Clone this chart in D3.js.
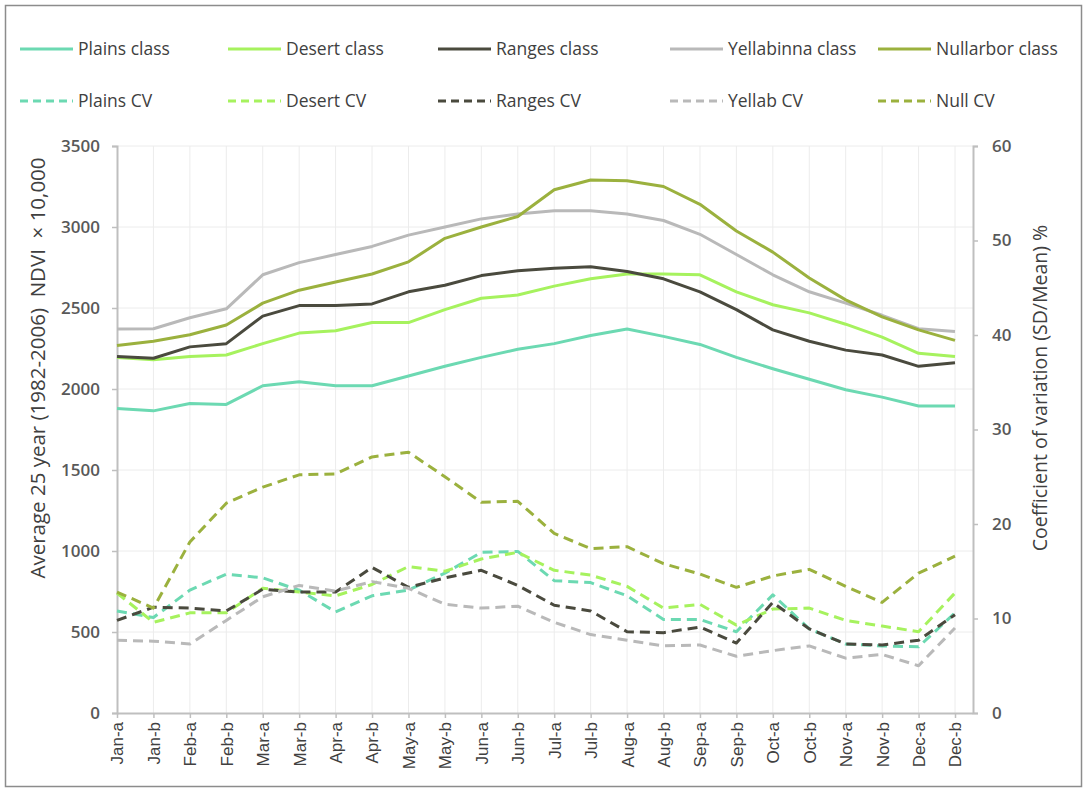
<!DOCTYPE html>
<html lang="en">
  <head>
    <meta charset="utf-8" />
    <title>NDVI by class</title>
    <style>
      body { margin: 0; background: #fff; }
      svg { display: block; }
    </style>
  </head>
  <body>
    <script src="https://d3js.org/d3.v7.min.js"></script>
    <div id="chart"></div>
    <script>
      // categories (half-months)
      const periods = ["Jan-a","Jan-b","Feb-a","Feb-b","Mar-a","Mar-b","Apr-a","Apr-b","May-a","May-b","Jun-a","Jun-b",
        "Jul-a","Jul-b","Aug-a","Aug-b","Sep-a","Sep-b","Oct-a","Oct-b","Nov-a","Nov-b","Dec-a","Dec-b"];

      // NDVI x 10,000 (left axis)
      const plainsClass = [1880,1865,1910,1905,2020,2045,2020,2020,2080,2140,2195,2245,2280,2330,2370,2325,2275,2195,2125,2060,1995,1950,1895,1895];
      const desertClass = [2195,2180,2200,2210,2280,2345,2360,2410,2410,2490,2560,2580,2635,2680,2710,2710,2705,2600,2520,2470,2400,2320,2220,2200];
      const rangesClass = [2200,2190,2260,2280,2450,2515,2515,2525,2600,2640,2700,2730,2745,2755,2725,2680,2600,2490,2365,2295,2240,2210,2140,2162];
      const yellabClass = [2370,2372,2440,2495,2705,2780,2830,2880,2950,3000,3050,3080,3100,3100,3080,3040,2955,2830,2705,2600,2530,2455,2372,2355];
      const nullarborClass = [2268,2295,2335,2395,2530,2610,2660,2710,2785,2930,3000,3065,3230,3290,3285,3250,3140,2975,2845,2685,2550,2445,2365,2300];

      // coefficient of variation % (right axis)
      const plainsCV = [10.8,10.1,13.0,14.7,14.3,13.0,10.7,12.4,13.0,14.8,17.0,17.1,14.0,13.8,12.4,9.9,9.9,8.6,12.5,8.9,7.3,7.1,7.0,10.6];
      const desertCV = [12.7,9.6,10.6,10.6,13.2,12.8,12.4,13.6,15.5,15.0,16.3,17.0,15.1,14.6,13.4,11.1,11.5,9.3,11.0,11.1,9.8,9.2,8.6,12.7];
      const rangesCV = [9.8,11.2,11.1,10.8,13.1,12.8,12.8,15.4,13.3,14.3,15.1,13.5,11.4,10.8,8.6,8.5,9.1,7.4,11.7,8.9,7.3,7.2,7.7,10.4];
      const yellabCV = [7.7,7.6,7.3,9.8,12.3,13.5,12.9,13.9,13.2,11.5,11.1,11.3,9.6,8.3,7.7,7.1,7.2,6.0,6.6,7.1,5.8,6.2,5.0,9.0];
      const nullCV = [12.8,11.1,18.1,22.2,23.9,25.2,25.3,27.1,27.6,25.0,22.3,22.4,19.0,17.4,17.6,15.8,14.7,13.3,14.5,15.2,13.4,11.7,14.8,16.6];

      const leftTicks = [0,500,1000,1500,2000,2500,3000,3500];
      const rightTicks = [0,10,20,30,40,50,60];

      const W = 1086, H = 791;
      const plot = { left: 117, right: 973, top: 146, bottom: 713, lastX: 955 };

      const colors = {
        plains: "#6cd9b2",
        desert: "#a6f25e",
        ranges: "#4a4a3e",
        yellab: "#b9b9b9",
        nullarbor: "#9bb13e"
      };

      const series = [
        { name: "Plains class", values: plainsClass, color: colors.plains, axis: "L", dash: null },
        { name: "Desert class", values: desertClass, color: colors.desert, axis: "L", dash: null },
        { name: "Ranges class", values: rangesClass, color: colors.ranges, axis: "L", dash: null },
        { name: "Yellabinna class", values: yellabClass, color: colors.yellab, axis: "L", dash: null },
        { name: "Nullarbor class", values: nullarborClass, color: colors.nullarbor, axis: "L", dash: null },
        { name: "Plains CV", values: plainsCV, color: colors.plains, axis: "R", dash: "10,6" },
        { name: "Desert CV", values: desertCV, color: colors.desert, axis: "R", dash: "10,6" },
        { name: "Ranges CV", values: rangesCV, color: colors.ranges, axis: "R", dash: "10,6" },
        { name: "Yellab CV", values: yellabCV, color: colors.yellab, axis: "R", dash: "10,6" },
        { name: "Null CV", values: nullCV, color: colors.nullarbor, axis: "R", dash: "10,6" }
      ];

      const svg = d3.select("#chart").append("svg")
        .attr("width", W).attr("height", H);

      svg.append("rect").attr("x", 5.5).attr("y", 5.5)
        .attr("width", W - 10).attr("height", H - 10)
        .attr("fill", "#fff").attr("stroke", "#8c8c8c").attr("stroke-width", 1.5);

      const x = d3.scalePoint().domain(periods).range([plot.left, plot.lastX]);
      const yL = d3.scaleLinear().domain([0, 3500]).range([plot.bottom, plot.top]);
      const yR = d3.scaleLinear().domain([0, 60]).range([plot.bottom, plot.top]);

      // gridlines
      const grid = svg.append("g");
      grid.selectAll(".hg").data(leftTicks.slice(1)).join("line")
        .attr("x1", plot.left).attr("x2", plot.right)
        .attr("y1", d => yL(d)).attr("y2", d => yL(d))
        .attr("stroke", "#ececec").attr("stroke-width", 1);
      grid.selectAll(".vg").data(periods.slice(1)).join("line")
        .attr("x1", d => x(d)).attr("x2", d => x(d))
        .attr("y1", plot.top).attr("y2", plot.bottom)
        .attr("stroke", "#ececec").attr("stroke-width", 1);

      // axes
      const axisColor = "#bfbfbf";
      const tickFont = "'Open Sans', 'Noto Sans', sans-serif";

      const gL = svg.append("g").attr("transform", `translate(${plot.left},0)`)
        .call(d3.axisLeft(yL).tickValues(leftTicks).tickFormat(d3.format("d")).tickSize(5).tickPadding(12));
      const gR = svg.append("g").attr("transform", `translate(${plot.right},0)`)
        .call(d3.axisRight(yR).tickValues(rightTicks).tickFormat(d3.format("d")).tickSize(5).tickPadding(14));
      const gB = svg.append("g").attr("transform", `translate(0,${plot.bottom})`)
        .call(d3.axisBottom(x).tickSize(5).tickSizeOuter(0));

      gB.select(".domain").attr("d", `M${plot.left},0.5H${plot.right}`);

      [gL, gR, gB].forEach(g => {
        g.select(".domain").attr("stroke", axisColor).attr("stroke-width", 2);
        g.selectAll(".tick line").attr("stroke", axisColor).attr("stroke-width", 1.5);
      });
      [gL, gR].forEach(g => {
        g.selectAll(".tick text").attr("fill", "#595959")
          .style("font-family", tickFont).style("font-size", "17px").style("font-weight", 600);
      });
      gB.selectAll(".tick text")
        .attr("transform", "rotate(-90)")
        .attr("text-anchor", "end")
        .attr("x", -9).attr("y", 0).attr("dy", "0.35em")
        .attr("fill", "#404040")
        .style("font-family", "'Liberation Sans', Arial, sans-serif").style("font-size", "17px");

      // axis titles
      svg.append("text")
        .attr("transform", "translate(45,368) rotate(-90)")
        .attr("text-anchor", "middle")
        .attr("fill", "#404040")
        .style("font-family", tickFont).style("font-size", "20.5px")
        .style("white-space", "pre")
        .text("Average 25 year (1982-2006)  NDVI  \u00d7 10,000");
      svg.append("text")
        .attr("transform", "translate(1047,388) rotate(-90)")
        .attr("text-anchor", "middle")
        .attr("fill", "#404040")
        .style("font-family", tickFont).style("font-size", "19.5px")
        .text("Coefficient of variation (SD/Mean) %");

      // lines
      const lineL = d3.line().x((d, i) => x(periods[i])).y(d => yL(d));
      const lineR = d3.line().x((d, i) => x(periods[i])).y(d => yR(d));

      const drawOrder = series.slice(5).concat(series.slice(0, 5));
      svg.append("g").selectAll("path").data(drawOrder).join("path")
        .attr("fill", "none")
        .attr("stroke", d => d.color)
        .attr("stroke-width", 3)
        .attr("stroke-linejoin", "round")
        .attr("stroke-dasharray", d => d.dash)
        .attr("d", d => (d.axis === "L" ? lineL : lineR)(d.values));

      // legend
      const legX = [20, 228, 438, 670, 878];
      const legY = [49, 101];
      const leg = svg.append("g").selectAll("g").data(series).join("g")
        .attr("transform", (d, i) => `translate(${legX[i % 5]},${legY[Math.floor(i / 5)]})`);
      leg.append("line")
        .attr("x1", 0).attr("x2", 53).attr("y1", 0).attr("y2", 0)
        .attr("stroke", d => d.color).attr("stroke-width", 3)
        .attr("stroke-dasharray", d => d.dash ? "8,5" : null);
      leg.append("text")
        .attr("x", 58).attr("y", 0).attr("dy", "0.35em")
        .attr("fill", "#404040")
        .style("font-family", tickFont).style("font-size", "17.5px")
        .text(d => d.name);
    </script>
  </body>
</html>
